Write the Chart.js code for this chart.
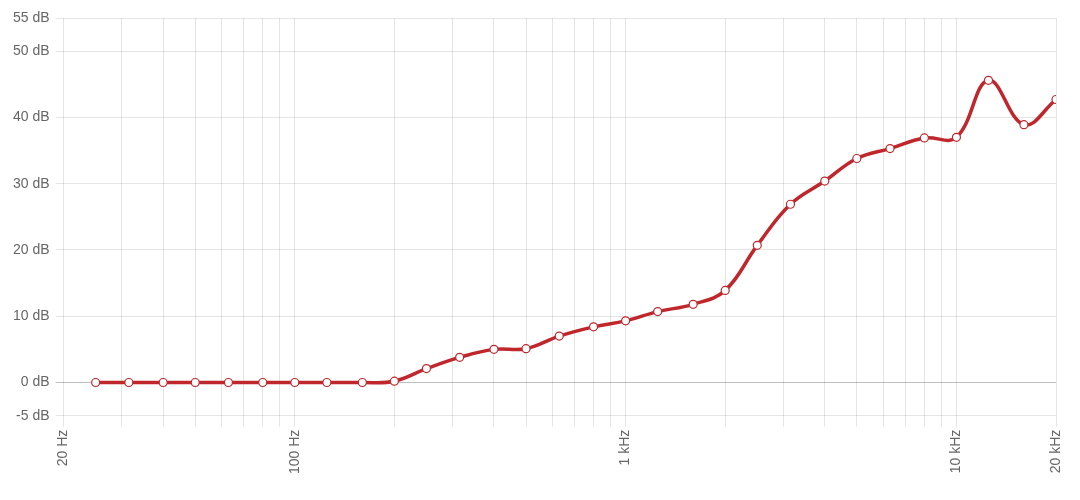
<!DOCTYPE html>
<html>
<head>
<meta charset="utf-8">
<script src="https://cdn.jsdelivr.net/npm/chart.js@4"></script>
<style>
  html, body { margin: 0; padding: 0; background: #fff; }
  #wrap { width: 1080px; height: 500px; position: relative; }
</style>
</head>
<body>
<div id="wrap"><canvas id="c"></canvas></div>
<script>
// Frequencies (Hz), 1/3-octave bands
const frequencies = [25, 31.5, 40, 50, 63, 80, 100, 125, 160, 200, 250, 315, 400, 500, 630, 800,
  1000, 1250, 1600, 2000, 2500, 3150, 4000, 5000, 6300, 8000, 10000, 12500, 16000, 20000];
// Gain (dB)
const gains = [0, 0, 0, 0, 0, 0, 0, 0, 0, 0.2, 2.1, 3.8, 5.0, 5.1, 7.0, 8.4,
  9.3, 10.7, 11.8, 13.9, 20.7, 26.9, 30.4, 33.8, 35.3, 36.9, 37.0, 45.6, 38.9, 42.7];

// X tick positions (grid) and the labelled ones
const xTicks = [20, 30, 40, 50, 60, 70, 80, 90, 100, 200, 300, 400, 500, 600, 700, 800, 900,
  1000, 2000, 3000, 4000, 5000, 6000, 7000, 8000, 9000, 10000, 20000];
const xLabelValues = [20, 100, 1000, 10000, 20000];
const xLabelTexts = ['20 Hz', '100 Hz', '1 kHz', '10 kHz', '20 kHz'];
// Y ticks
const yTicks = [-5, 0, 10, 20, 30, 40, 50, 55];

const points = frequencies.map((f, i) => ({ x: f, y: gains[i] }));

new Chart(document.getElementById('c'), {
  type: 'line',
  data: {
    datasets: [{
      data: points,
      borderColor: '#c0272d',
      borderWidth: 3.5,
      tension: 0.4,
      pointRadius: 4,
      pointBackgroundColor: '#ffffff',
      pointBorderColor: '#c0272d',
      pointBorderWidth: 1.2,
      fill: false
    }]
  },
  options: {
    responsive: true,
    maintainAspectRatio: false,
    animation: false,
    layout: { padding: { left: 7, right: 24, top: 18, bottom: 23 } },
    plugins: { legend: { display: false }, tooltip: { enabled: false } },
    scales: {
      x: {
        type: 'logarithmic',
        min: 20,
        max: 20000,
        afterBuildTicks: (scale) => { scale.ticks = xTicks.map(v => ({ value: v })); },
        ticks: {
          autoSkip: false,
          maxRotation: 90,
          minRotation: 90,
          color: '#666',
          font: { family: 'Liberation Sans, Arial, sans-serif', size: 14 },
          callback: (v) => {
            const k = xLabelValues.indexOf(v);
            return k >= 0 ? xLabelTexts[k] : '';
          }
        },
        grid: { color: 'rgba(0,0,0,0.1)', tickLength: 11 },
        border: { display: false }
      },
      y: {
        min: -5,
        max: 55,
        afterBuildTicks: (scale) => { scale.ticks = yTicks.map(v => ({ value: v })); },
        ticks: {
          color: '#666',
          padding: 6,
          font: { family: 'Liberation Sans, Arial, sans-serif', size: 14 },
          callback: (v) => v + ' dB'
        },
        grid: {
          color: (ctx) => (ctx.tick && ctx.tick.value === 0) ? 'rgba(0,0,0,0.25)' : 'rgba(0,0,0,0.1)',
          tickLength: 8
        },
        border: { display: false }
      }
    }
  }
});
</script>
</body>
</html>
